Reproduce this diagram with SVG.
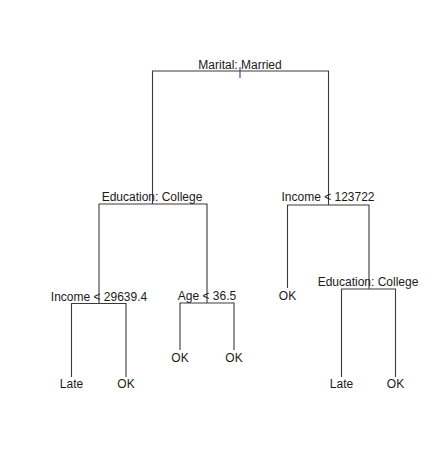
<svg xmlns="http://www.w3.org/2000/svg" width="439" height="463" viewBox="0 0 439 463">
<style>
.e{stroke:#3a3a3a;stroke-width:1.1;fill:none}
text{font-family:"Liberation Sans",Arial,sans-serif;font-size:12px;fill:#1a1a1a;text-anchor:middle}
</style>
<rect width="439" height="463" fill="#fff"/>
<g id="connectors">
<path class="e" d="M152.5,204 V71 H328.5 V205"/>
<path class="e" d="M240,67 V78" style="stroke:#3d3d7a"/>
<path class="e" d="M71.5,377 V303.5 H126 V377"/>
<path class="e" d="M99,303.5 V204 H207 V303"/>
<path class="e" d="M180,350 V303 H234 V350"/>
<path class="e" d="M287.5,288 V205 H369 V289"/>
<path class="e" d="M341.5,377 V289 H395.5 V377"/>
</g>
<g id="n-root"><text x="240" y="69">Marital: Married</text></g>
<g id="n-edu1"><text x="152" y="201">Education: College</text></g>
<g id="n-inc1"><text x="99" y="301">Income &lt; 29639.4</text></g>
<g id="n-age"><text x="207" y="300">Age &lt; 36.5</text></g>
<g id="n-inc2"><text x="328" y="201">Income &lt; 123722</text></g>
<g id="n-edu2"><text x="368" y="286">Education: College</text></g>
<g id="l1"><text x="71.5" y="388">Late</text></g>
<g id="l2"><text x="126" y="388">OK</text></g>
<g id="l3"><text x="180" y="362">OK</text></g>
<g id="l4"><text x="234" y="362">OK</text></g>
<g id="l5"><text x="287.5" y="300">OK</text></g>
<g id="l6"><text x="341.5" y="388">Late</text></g>
<g id="l7"><text x="395.5" y="388">OK</text></g>
</svg>
